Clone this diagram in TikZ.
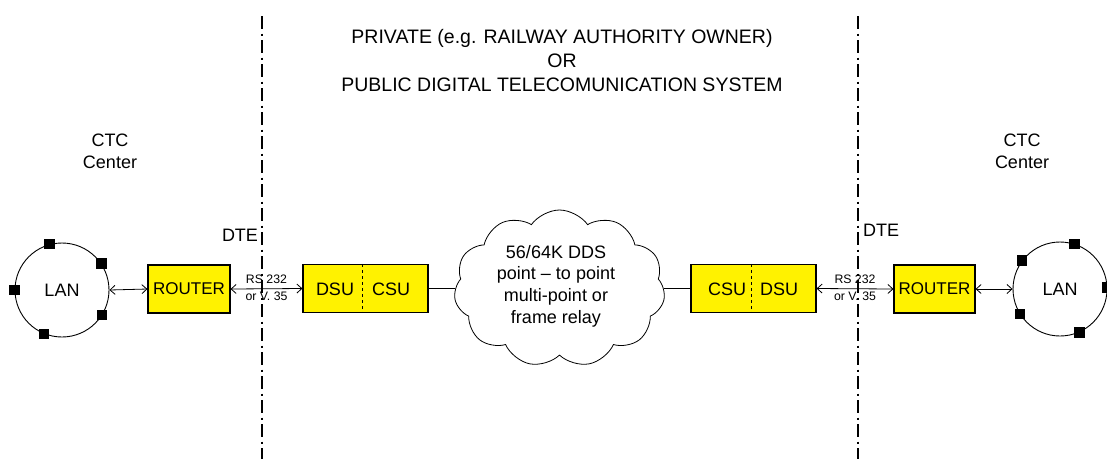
\documentclass[tikz,border=0pt]{standalone}
\usepackage{fontspec}
\setmainfont{Liberation Sans}
\usetikzlibrary{shapes.symbols,calc,arrows.meta}
\begin{document}
\begin{tikzpicture}[x=1pt,y=-1pt,
  every node/.style={font=\fontsize{18}{22}\selectfont},
  ybox/.style={draw=black, line width=1.1pt, fill=yellow, minimum height=48, inner sep=0},
  sq/.style={fill=black, minimum size=10.5, inner sep=0},
  lanc/.style={circle, draw, line width=0.9pt, minimum size=94, inner sep=0},
  arr/.style={line width=0.8pt, {Straight Barb[length=5pt,width=9pt]}-{Straight Barb[length=5pt,width=9pt]}},
  plain/.style={line width=0.8pt},
  divider/.style={dashed, line width=0.9pt},
  sepline/.style={line width=2pt, dash pattern=on 13pt off 4.5pt on 2pt off 4.5pt},
  small/.style={font=\fontsize{12.3}{14}\selectfont, inner sep=0},
  rtext/.style={font=\fontsize{17}{20}\selectfont}
]
\useasboundingbox[fill=white] (0,0) rectangle (1107,459);

% separators
\coordinate (sepLt) at (262,16);
\coordinate (sepLb) at (262,459);
\coordinate (sepRt) at (858,16);
\coordinate (sepRb) at (858,459);
\draw[sepline] (sepLt) -- (sepLb);
\draw[sepline] (sepRt) -- (sepRb);

% title
\node[align=center, font=\fontsize{19.5}{24}\selectfont] (title) at (562,61)
  {PRIVATE (e.g. RAILWAY AUTHORITY OWNER)\\OR\\PUBLIC DIGITAL TELECOMUNICATION SYSTEM};

\node[align=center] (ctcL) at (110,151) {CTC\\Center};
\node[align=center] (ctcR) at (1022,151) {CTC\\Center};

\node (dteL) at (240,235) {DTE};
\node (dteR) at (881,230) {DTE};

% left LAN
\node[lanc] (lanL) at (62,290) {LAN};
\node[sq] (sL1) at (lanL.105) {};
\node[sq] (sL2) at (lanL.34) {};
\node[sq] (sL3) at (lanL.-32) {};
\node[sq] (sL4) at (lanL.-112) {};
\node[sq] (sL5) at (lanL.180) {};

% right LAN
\node[lanc] (lanR) at (1060,289) {LAN};
\node[sq] (sR1) at (lanR.72) {};
\node[sq] (sR2) at (lanR.143) {};
\node[sq] (sR3) at (lanR.-148) {};
\node[sq] (sR4) at (lanR.-66) {};
\node[sq] (sR5) at (lanR.2) {};

% routers
\node[ybox, rtext, minimum width=82] (rtL) at (189,289) {ROUTER};
\node[ybox, rtext, minimum width=81] (rtR) at (934.5,289) {ROUTER};

% DSU/CSU boxes
\node[ybox, minimum width=125] (boxL) at (365.5,288.5) {};
\node (dsuL) at (335,289) {DSU};
\node (csuL) at (391,289) {CSU};
\draw[divider] ($(boxL.north west)!0.472!(boxL.north east)$) -- ($(boxL.south west)!0.472!(boxL.south east)$);

\node[ybox, minimum width=125] (boxR) at (753.5,288.5) {};
\node (csuR) at (727,289) {CSU};
\node (dsuR) at (779,289) {DSU};
\draw[divider] ($(boxR.north west)!0.48!(boxR.north east)$) -- ($(boxR.south west)!0.48!(boxR.south east)$);

% cloud
\node[cloud, draw, cloud puffs=11, cloud puff arc=110, aspect=1.35,
      minimum width=211, minimum height=157, inner sep=0, line width=0.8pt] (cloud) at (559.5,288.5) {};
\node[align=center, font=\fontsize{18}{21.7}\selectfont] (cloudtxt) at (556,286)
  {56/64K DDS\\point -- to point\\multi-point or\\frame relay};

% connectors
\draw[arr] (lanL.east) -- (rtL.west);
\draw[arr] (rtL.east) -- (boxL.west)
  node[small, midway, yshift=9] (rsL) {RS 232}
  node[small, midway, yshift=-8] (orL) {or V. 35};
\draw[plain] (boxL.east) -- (cloud.west);
\draw[plain] (cloud.east) -- (boxR.west);
\draw[arr] (boxR.east) -- (rtR.west)
  node[small, midway, yshift=9] (rsR) {RS 232}
  node[small, midway, yshift=-8] (orR) {or V. 35};
\draw[arr] (rtR.east) -- (lanR.west);
\end{tikzpicture}
\end{document}
